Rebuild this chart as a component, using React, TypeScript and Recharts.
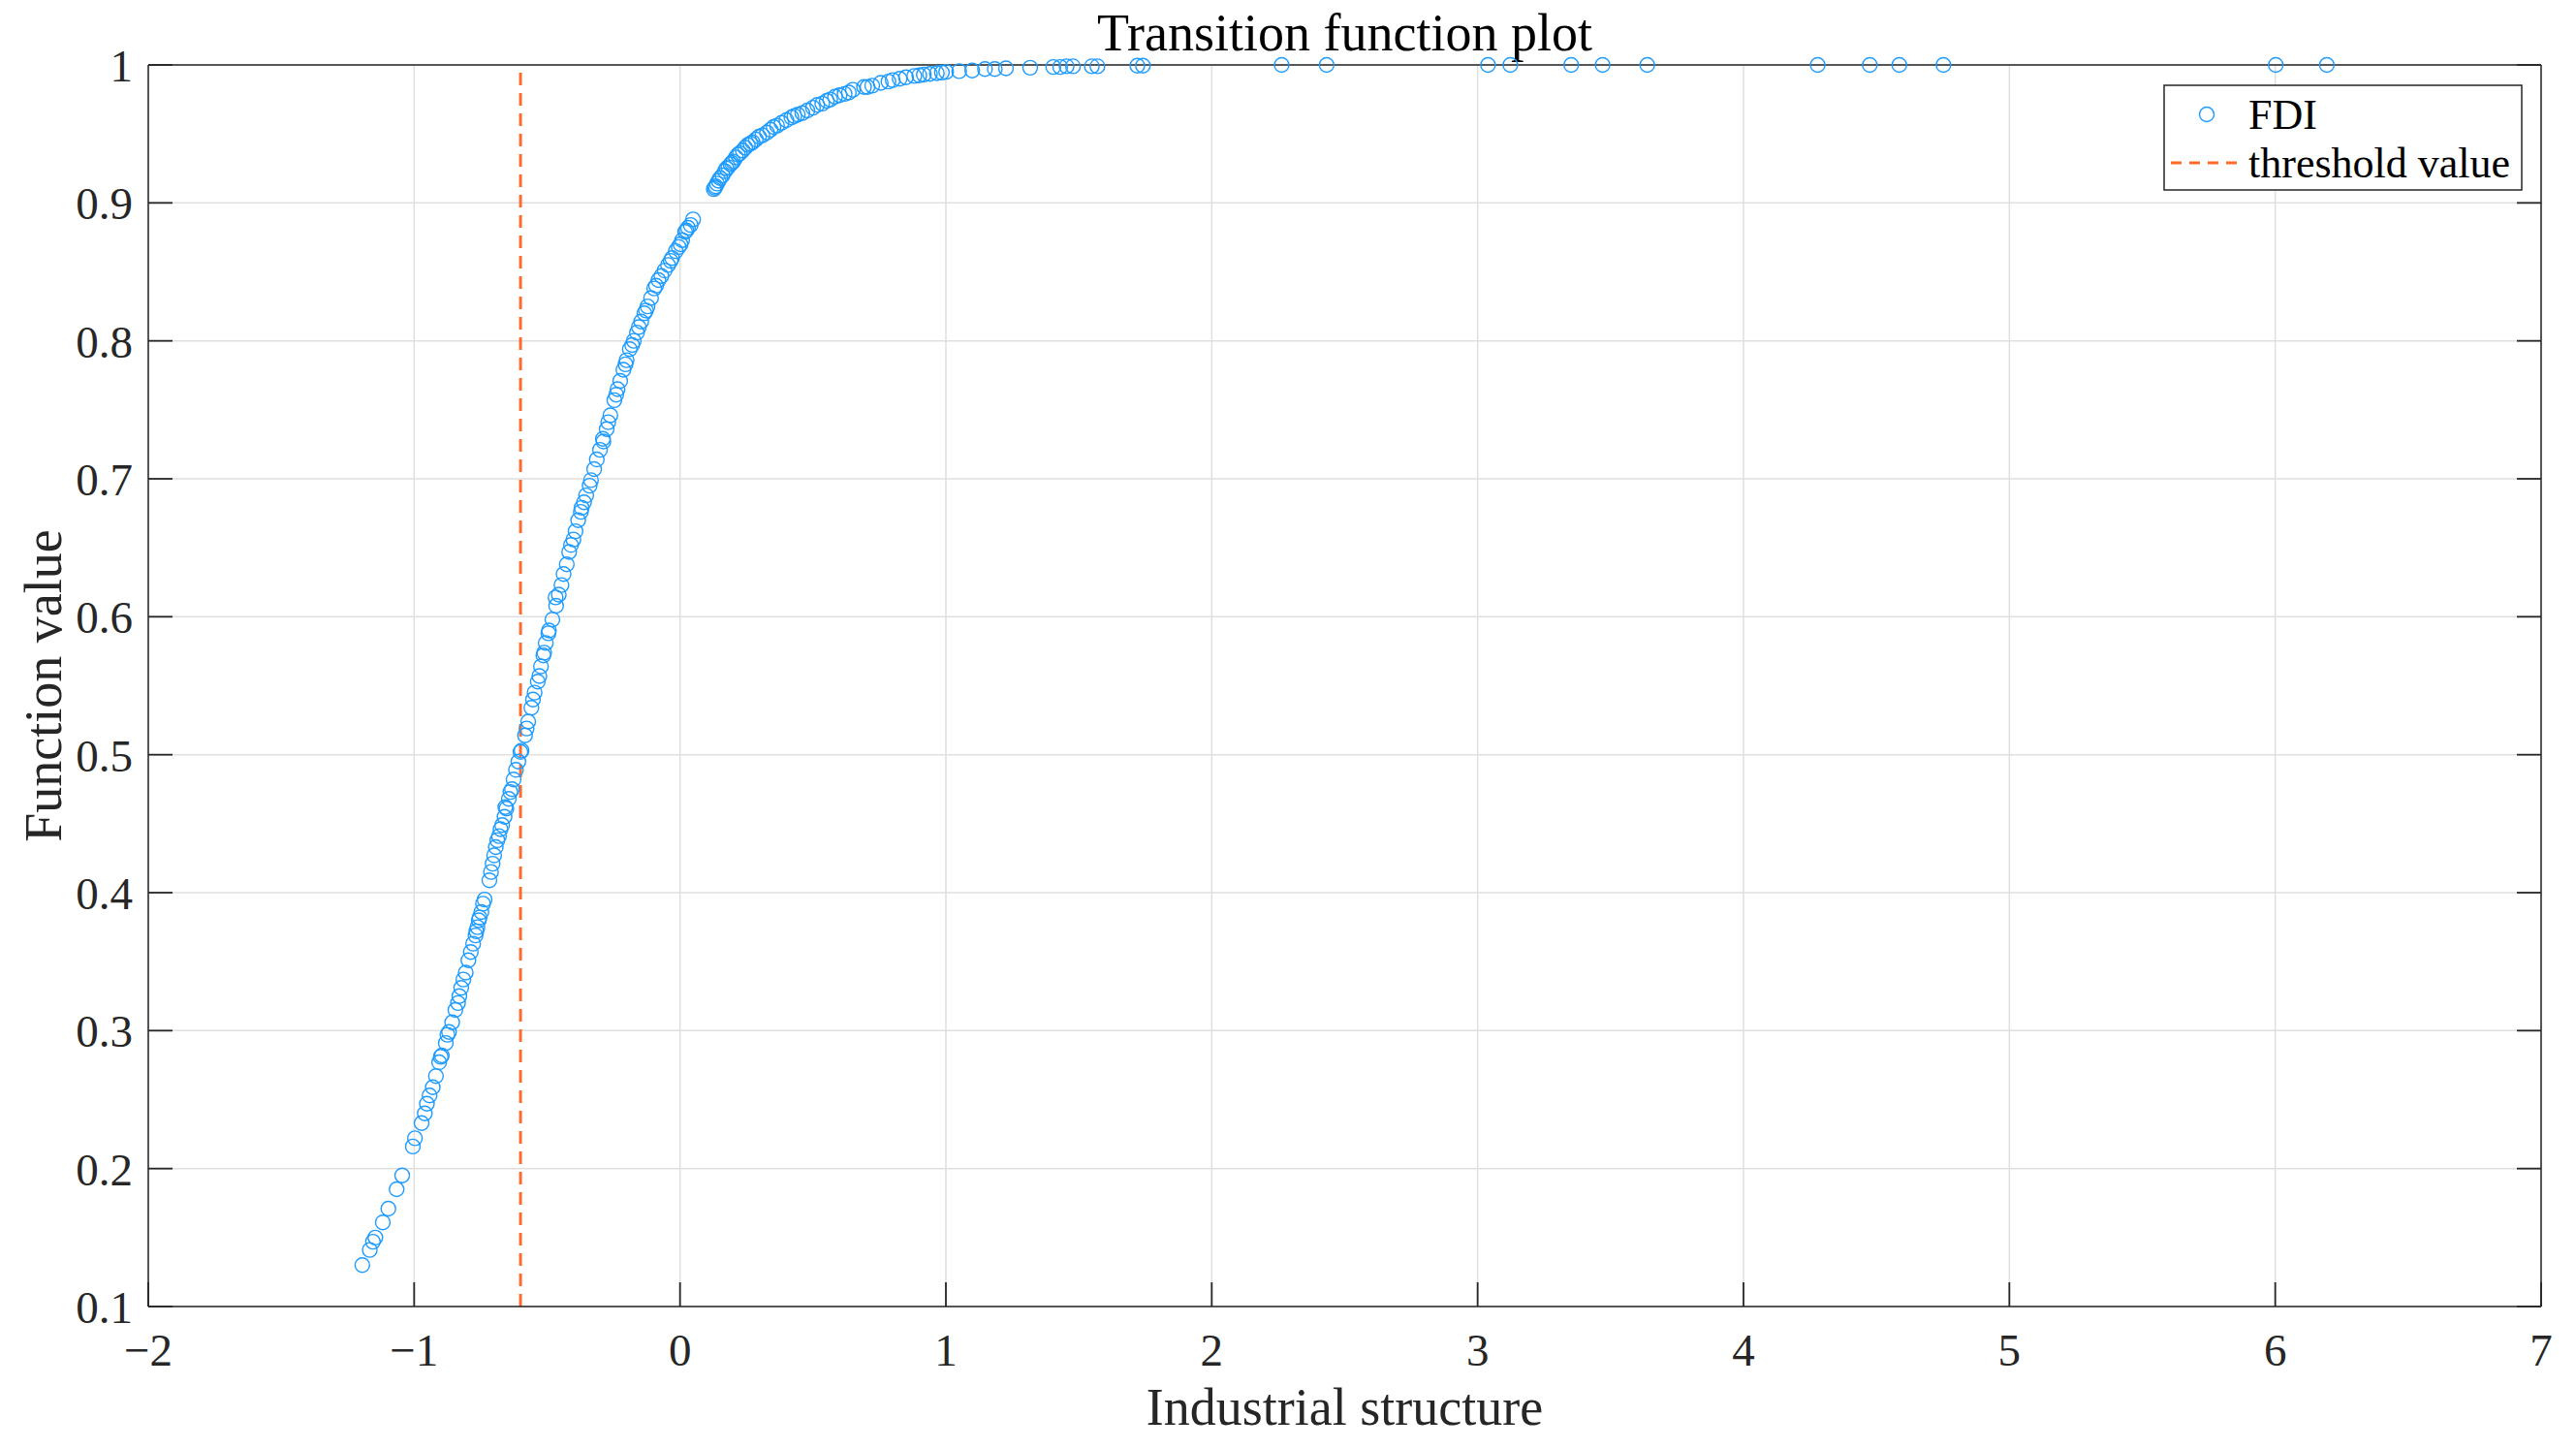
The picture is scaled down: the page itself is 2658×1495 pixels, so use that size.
import { ScatterChart, Scatter, XAxis, YAxis, CartesianGrid, ReferenceLine, Legend, Label } from 'recharts';

// readings from the reference plot (industrial structure -> transition function value)
const industrialStructure = [
  -1.195, -1.167, -1.155, -1.146, -1.118, -1.097, -1.066, -1.045, -1.005, -0.997,
  -0.972, -0.96, -0.952, -0.942, -0.93, -0.918, -0.906, -0.896, -0.881, -0.869,
  -0.857, -0.835, -0.83, -0.823, -0.806, -0.796, -0.778, -0.769, -0.762, -0.757,
  -0.747, -0.741, -0.717, -0.711, -0.705, -0.699, -0.693, -0.681, -0.669, -0.66,
  -0.653, -0.644, -0.632, -0.626, -0.608, -0.596, -0.583, -0.571, -0.559, -0.547,
  -0.535, -0.523, -0.514, -0.505, -0.495, -0.48, -0.466, -0.456, -0.446, -0.438,
  -0.426, -0.417, -0.401, -0.393, -0.383, -0.373, -0.361, -0.353, -0.335, -0.323,
  -0.313, -0.301, -0.288, -0.276, -0.262, -0.247, -0.235, -0.225, -0.213, -0.201,
  -0.189, -0.174, -0.162, -0.146, -0.134, -0.122, -0.109, -0.097, -0.081, -0.07,
  -0.058, -0.045, -0.03, -0.016, -0.005, 0.008, 0.019, 0.03, 0.049,
  -0.468, -0.493, -0.511, -0.529, -0.553, -0.577, -0.6, -0.617, -0.638, -0.657,
  -0.675, -0.687, -0.735, -0.754, -0.766, -0.787, -0.815, -0.845, -0.875, -0.9,
  -0.41, -0.37, -0.34, -0.29, -0.27, -0.24, -0.205, -0.18, -0.155, -0.128,
  -0.09, -0.035, 0.002, 0.024, 0.04,
  0.127, 0.134, 0.139, 0.151, 0.16, 0.169, 0.182, 0.19, 0.2, 0.21,
  0.218, 0.236, 0.255, 0.273, 0.297, 0.327, 0.352, 0.382, 0.419, 0.443,
  0.479, 0.516, 0.552, 0.583, 0.619, 0.65, 0.692, 0.723, 0.784, 0.826,
  0.881, 0.917, 0.966, 1.001, 1.05, 1.099, 1.147, 1.184, 1.226, 1.317,
  0.131, 0.145, 0.175, 0.195, 0.225, 0.245, 0.265, 0.285, 0.31, 0.34,
  0.365, 0.4, 0.43, 0.46, 0.5, 0.535, 0.565, 0.6, 0.635, 0.705,
  0.755, 0.8, 0.85, 0.9, 0.94, 0.985,
  1.404, 1.43, 1.454, 1.478, 1.549, 1.57, 1.72, 1.741,
  2.263, 2.432, 3.039, 3.123, 3.352, 3.47, 3.638, 4.279, 4.475, 4.586, 4.752, 6.002, 6.194,
];

const functionValue = [
  0.13, 0.141, 0.147, 0.15, 0.161, 0.171, 0.185, 0.195, 0.216, 0.222,
  0.233, 0.24, 0.247, 0.253, 0.259, 0.267, 0.277, 0.282, 0.291, 0.299,
  0.306, 0.32, 0.325, 0.331, 0.342, 0.351, 0.363, 0.369, 0.375, 0.38,
  0.386, 0.392, 0.409, 0.415, 0.421, 0.427, 0.433, 0.441, 0.449, 0.455,
  0.461, 0.468, 0.475, 0.482, 0.495, 0.503, 0.514, 0.524, 0.534, 0.545,
  0.553, 0.564, 0.572, 0.581, 0.588, 0.598, 0.608, 0.616, 0.623, 0.631,
  0.638, 0.647, 0.656, 0.662, 0.67, 0.676, 0.683, 0.688, 0.699, 0.707,
  0.714, 0.721, 0.727, 0.736, 0.746, 0.757, 0.765, 0.771, 0.779, 0.786,
  0.794, 0.8, 0.806, 0.814, 0.82, 0.825, 0.831, 0.838, 0.844, 0.847,
  0.851, 0.855, 0.86, 0.865, 0.868, 0.873, 0.879, 0.882, 0.888,
  0.614, 0.59, 0.574, 0.557, 0.54, 0.519, 0.502, 0.489, 0.473, 0.462,
  0.446, 0.438, 0.395, 0.382, 0.372, 0.357, 0.337, 0.315, 0.297, 0.281,
  0.652, 0.679, 0.695, 0.729, 0.741, 0.761, 0.783, 0.797, 0.81, 0.822,
  0.84, 0.858, 0.87, 0.88, 0.884,
  0.91, 0.912, 0.914, 0.918, 0.92, 0.923, 0.926, 0.928, 0.93, 0.933,
  0.935, 0.938, 0.942, 0.944, 0.948, 0.951, 0.955, 0.958, 0.962, 0.964,
  0.967, 0.971, 0.974, 0.977, 0.979, 0.982, 0.984, 0.985, 0.988, 0.99,
  0.992, 0.993, 0.994, 0.995, 0.9955, 0.996, 0.997, 0.997, 0.9975, 0.998,
  0.911, 0.916, 0.925, 0.929, 0.936, 0.94, 0.943, 0.946, 0.949, 0.953,
  0.956, 0.96, 0.963, 0.965, 0.969, 0.972, 0.975, 0.978, 0.98, 0.984,
  0.987, 0.989, 0.991, 0.9925, 0.9935, 0.9945,
  0.9985, 0.9985, 0.999, 0.999, 0.999, 0.999, 0.9995, 0.9995,
  1, 1, 1, 1, 1, 1, 1, 1, 1, 1, 1, 1, 1,
];

const thresholdValue = -0.6;
const xTicks = [-2, -1, 0, 1, 2, 3, 4, 5, 6, 7];
const yTicks = [0.1, 0.2, 0.3, 0.4, 0.5, 0.6, 0.7, 0.8, 0.9, 1];

const FONT = '"Liberation Serif", "Times New Roman", serif';
const BLUE = '#1E9BFF';
const ORANGE = '#FF6A29';
const AXIS = '#262626';
const GRID = '#DFDFDF';
const TICK_LEN = 25;

const data = industrialStructure.map((x, i) => ({ x, y: functionValue[i] }));

const fmtX = (v: number) => (v < 0 ? `\u2212${Math.abs(v)}` : `${v}`);
const fmtY = (v: number) => (v === 1 ? '1' : v.toFixed(1));

const BottomTick = ({ x, y, payload }: any) => (
  <g>
    <line x1={x} x2={x} y1={y} y2={y - TICK_LEN} stroke={AXIS} strokeWidth={1.8} />
    <text x={x} y={y + 61} textAnchor="middle" fontFamily={FONT} fontSize={47} fill="#262626">
      {fmtX(payload.value)}
    </text>
  </g>
);

const LeftTick = ({ x, y, payload }: any) => (
  <g>
    <line x1={x} x2={x + TICK_LEN} y1={y} y2={y} stroke={AXIS} strokeWidth={1.8} />
    <text x={x - 16} y={y + 17} textAnchor="end" fontFamily={FONT} fontSize={47} fill="#262626">
      {fmtY(payload.value)}
    </text>
  </g>
);

const TopTick = ({ x, y }: any) => <line x1={x} x2={x} y1={y} y2={y + TICK_LEN} stroke={AXIS} strokeWidth={1.8} />;

const RightTick = ({ x, y }: any) => <line x1={x} x2={x - TICK_LEN} y1={y} y2={y} stroke={AXIS} strokeWidth={1.8} />;

const Ring = (props: any) => (
  <circle cx={props.cx} cy={props.cy} r={7.5} fill="none" stroke={BLUE} strokeWidth={1.4} />
);

const TitleLabel = ({ viewBox }: any) => (
  <text x={viewBox.x + viewBox.width / 2} y={viewBox.y + viewBox.height - 15} textAnchor="middle" fontFamily={FONT} fontSize={54} fill="#000">
    Transition function plot
  </text>
);

const XTitle = ({ viewBox }: any) => (
  <text x={viewBox.x + viewBox.width / 2} y={viewBox.y + 122} textAnchor="middle" fontFamily={FONT} fontSize={54} fill="#262626">
    Industrial structure
  </text>
);

const YTitle = ({ viewBox }: any) => {
  const cx = viewBox.x + 55;
  const cy = viewBox.y + viewBox.height / 2;
  return (
    <text x={cx} y={cy} transform={`rotate(-90, ${cx}, ${cy})`} textAnchor="middle" fontFamily={FONT} fontSize={54} fill="#262626">
      Function value
    </text>
  );
};

const legendItems = [
  { name: 'FDI', kind: 'marker' },
  { name: 'threshold value', kind: 'line' },
];

const renderLegend = () => (
  <svg width={372} height={111} style={{ display: 'block' }}>
    <rect x={1} y={1} width={369} height={108} fill="#fff" stroke={AXIS} strokeWidth={1.5} />
    {legendItems.map((item, i) => {
      const cy = 31 + i * 50;
      return (
        <g key={item.name}>
          {item.kind === 'marker' ? (
            <circle cx={45} cy={cy} r={7.5} fill="none" stroke={BLUE} strokeWidth={1.4} />
          ) : (
            <line x1={8} x2={78} y1={cy} y2={cy} stroke={ORANGE} strokeWidth={3} strokeDasharray="11 8" />
          )}
          <text x={88} y={cy + 15} fontFamily={FONT} fontSize={44} fill="#000">
            {item.name}
          </text>
        </g>
      );
    })}
  </svg>
);

const axisLine = { stroke: AXIS, strokeWidth: 1.5 };

export default function App() {
  return (
    <ScatterChart width={2642} height={1480} margin={{ top: 58, right: 27, bottom: 0, left: 0 }}>
      <CartesianGrid stroke={GRID} strokeWidth={1.5} />
      <XAxis
        type="number"
        dataKey="x"
        domain={[-2, 7]}
        ticks={xTicks}
        interval={0}
        tickSize={0}
        tickMargin={0}
        tickLine={false}
        axisLine={axisLine}
        tick={<BottomTick />}
        height={140}
      >
        <Label content={XTitle} />
      </XAxis>
      <XAxis
        xAxisId="top"
        orientation="top"
        type="number"
        domain={[-2, 7]}
        allowDataOverflow
        ticks={xTicks}
        interval={0}
        tickSize={0}
        tickMargin={0}
        tickLine={false}
        axisLine={axisLine}
        tick={<TopTick />}
        height={1}
      >
        <Label content={TitleLabel} />
      </XAxis>
      <YAxis
        type="number"
        dataKey="y"
        domain={[0.1, 1]}
        ticks={yTicks}
        interval={0}
        tickSize={0}
        tickMargin={0}
        tickLine={false}
        axisLine={axisLine}
        tick={<LeftTick />}
        width={145}
      >
        <Label content={YTitle} />
      </YAxis>
      <YAxis
        yAxisId="right"
        orientation="right"
        type="number"
        domain={[0.1, 1]}
        allowDataOverflow
        ticks={yTicks}
        interval={0}
        tickSize={0}
        tickMargin={0}
        tickLine={false}
        axisLine={axisLine}
        tick={<RightTick />}
        width={1}
      />
      <Scatter name="FDI" data={data} shape={Ring} isAnimationActive={false} />
      <ReferenceLine x={thresholdValue} stroke={ORANGE} strokeWidth={3} strokeDasharray="13 8" />
      <Legend
        layout="vertical"
        align="center"
        verticalAlign="middle"
        content={renderLegend}
        wrapperStyle={{ left: 2224, top: 79, width: 372, height: 111 }}
      />
    </ScatterChart>
  );
}
